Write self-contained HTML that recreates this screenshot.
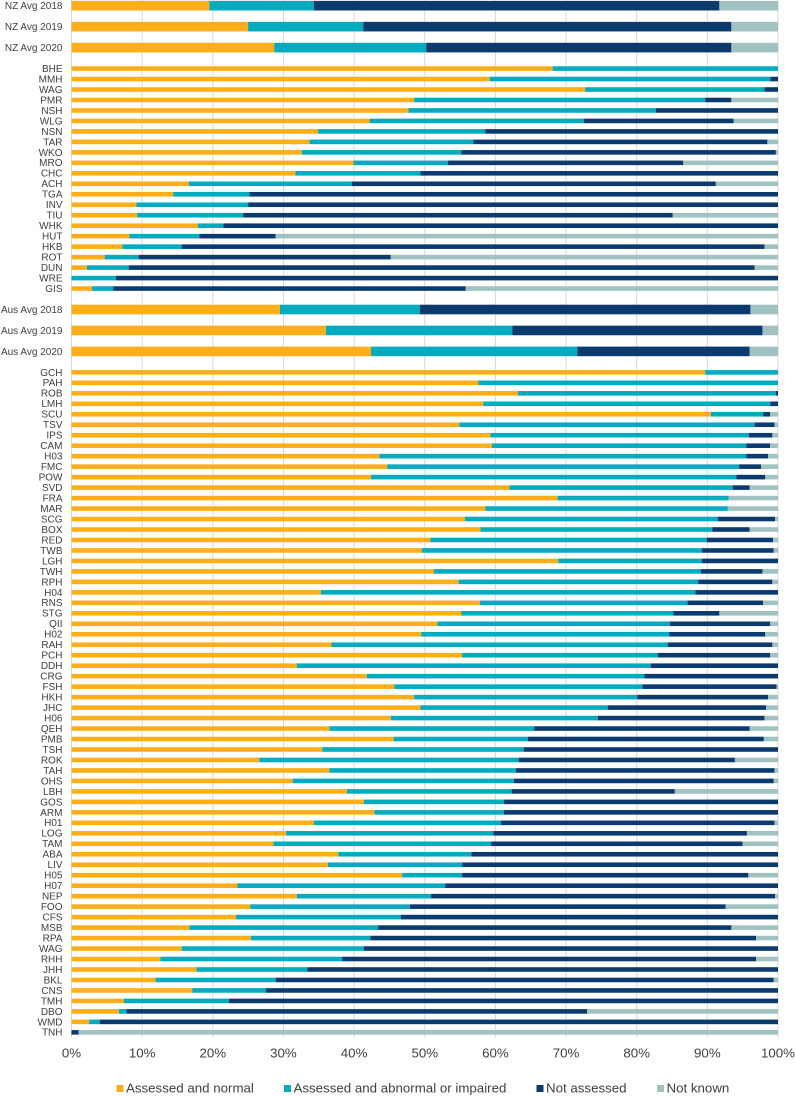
<!DOCTYPE html>
<html>
<head>
<meta charset="utf-8">
<title>Stacked bar chart</title>
<style>
  html, body { margin: 0; padding: 0; background: #fff; }
  svg { display: block; }
  text { font-family: "Liberation Sans", Arial, sans-serif; fill: #404040; }
</style>
</head>
<body>
<svg id="chart" xmlns="http://www.w3.org/2000/svg" width="795" height="1096" viewBox="0 0 795 1096"></svg>
<script>
const categories = ["NZ Avg 2018",null,"NZ Avg 2019",null,"NZ Avg 2020",null,
"BHE","MMH","WAG","PMR","NSH","WLG","NSN","TAR","WKO","MRO","CHC","ACH","TGA","INV","TIU","WHK","HUT","HKB","ROT","DUN","WRE","GIS",null,
"Aus Avg 2018",null,"Aus Avg 2019",null,"Aus Avg 2020",null,
"GCH","PAH","ROB","LMH","SCU","TSV","IPS","CAM","H03","FMC",
"POW","SVD","FRA","MAR","SCG","BOX","RED","TWB","LGH","TWH",
"RPH","H04","RNS","STG","QII","H02","RAH","PCH","DDH","CRG",
"FSH","HKH","JHC","H06","QEH","PMB","TSH","ROK","TAH","OHS",
"LBH","GOS","ARM","H01","LOG","TAM","ABA","LIV","H05","H07",
"NEP","FOO","CFS","MSB","RPA","WAG","RHH","JHH","BKL","CNS",
"TMH","DBO","WMD","TNH"];

const assessedNormal = [19.5,null,25,null,28.7,null,
68.1,59.2,72.7,48.5,47.7,42.2,34.9,33.7,32.6,39.9,31.7,16.6,14.4,9.2,9.3,17.9,8.2,7.2,4.7,2.2,0,2.9,null,
29.5,null,36,null,42.4,null,
89.7,57.6,63.2,58.3,90.5,54.9,59.3,59.5,43.6,44.7,
42.4,62,68.8,58.6,55.7,57.9,50.8,49.6,68.9,51.3,
54.8,35.3,57.8,55.2,51.8,49.5,36.8,55.3,31.9,41.8,
45.7,48.5,49.4,45.2,36.5,45.6,35.5,26.6,36.5,31.3,
39,41.4,42.9,34.3,30.4,28.6,37.8,36.3,46.8,23.5,
31.9,25.3,23.3,16.7,25.4,15.6,12.6,17.7,11.9,17.1,
7.4,6.7,2.5,0];

const assessedAbnormal = [14.8,null,16.3,null,21.5,null,
31.9,39.7,25.4,41.2,35,30.3,23.7,23.2,22.6,13.4,17.7,23.1,10.8,15.8,15,3.6,9.9,8.4,4.8,5.9,6.3,3,null,
19.8,null,26.4,null,29.2,null,
10.3,42.4,36.5,40.6,7.4,41.8,36.6,36,51.9,49.8,
51.7,31.6,24.2,34.3,35.8,32.8,39.1,39.6,20.3,37.8,
33.9,53,29.4,30,32.9,35.1,47.6,27.7,50.1,39.3,
35.1,31.6,26.5,29.3,29,19,28.5,36.7,26.4,31.3,
23.3,19.8,18.3,26.5,29.3,30.8,18.8,19,8.5,29.4,
19,22.6,23.3,26.7,16.9,25.8,25.7,15.7,17,10.4,
14.9,1.1,1.5,0];

const notAssessed = [57.4,null,52.1,null,43.2,null,
0,1.1,1.9,3.7,17.3,21.2,41.4,41.6,44.5,33.3,50.6,51.5,74.8,75,60.8,78.5,10.8,82.5,35.7,88.6,93.7,49.9,null,
46.8,null,35.4,null,24.4,null,
0,0,0.3,1.1,1,2.8,3.3,3.4,3.1,3.1,
4.1,2.4,0,0,8.1,5.3,9.4,10.2,10.8,8.7,
10.5,11.7,10.7,6.5,14.2,13.6,14.8,15.9,18,18.9,
19,18.5,22.4,23.6,30.5,33.4,36,30.6,36.6,36.8,
23.1,38.8,38.8,38.7,35.9,35.6,43.4,44.7,40.5,47.1,
48.7,44.7,53.4,50,54.6,58.6,58.6,66.6,70.5,72.5,
77.7,65.2,96,1];

const notKnown = [8.3,null,6.6,null,6.6,null,
0,0,0,6.6,0,6.3,0,1.5,0.3,13.4,0,8.8,0,0,14.9,0,71.1,1.9,54.8,3.3,0,44.2,null,
3.9,null,2.2,null,4,null,
0,0,0,0,1.1,0.5,0.8,1.1,1.4,2.4,
1.8,4,7,7.1,0.4,4,0.7,0.6,0,2.2,
0.8,0,2.1,8.3,1.1,1.8,0.8,1.1,0,0,
0.2,1.4,1.7,1.9,4,2,0,6.1,0.5,0.6,
14.6,0,0,0.5,4.4,5,0,0,4.2,0,
0.4,7.4,0,6.6,3.1,0,3.1,0,0.6,0,
0,27,0,99];

const xTickValues = [0,10,20,30,40,50,60,70,80,90,100];
const seriesNames = ["Assessed and normal","Assessed and abnormal or impaired","Not assessed","Not known"];

const seriesValues = [assessedNormal, assessedAbnormal, notAssessed, notKnown];
const seriesKeys = ["assessed-normal","assessed-abnormal","not-assessed","not-known"];
const seriesColors = ["#FDAE18","#00ABBF","#0B3A6E","#A1C2C1"];
const legendSwatchX = [116.5, 284, 536.5, 657];

const svg = document.getElementById('chart');
const NS = 'http://www.w3.org/2000/svg';
const plotLeft = 71.5, plotRight = 778, firstRowY = 5.7, rowStep = 10.476;

function xScale(v) { return plotLeft + (v / 100) * (plotRight - plotLeft); }
function yScale(i) { return firstRowY + i * rowStep; }
function make(tag, attrs, parent) {
  const n = document.createElementNS(NS, tag);
  for (const k in attrs) n.setAttribute(k, attrs[k]);
  parent.appendChild(n);
  return n;
}

const plotBottom = yScale(categories.length - 1) + rowStep / 2;

xTickValues.forEach(function (t) {
  const line = make('line', {x1: xScale(t), x2: xScale(t), y1: 0, y2: plotBottom, stroke: '#D9D9D9', 'stroke-width': 1}, svg);
  
  
  const label = make('text', {x: xScale(t), y: 1057.5, 'text-anchor': 'middle', 'font-size': 13.3}, svg);
  label.textContent = t + '%';
  
  
});

categories.forEach(function (cat, i) {
  if (cat === null) return;
  const isAvg = cat.indexOf('Avg') >= 0;
  const h = isAvg ? 9.6 : 4.6;
  const y = yScale(i);
  const label = make('text', {x: 62.5, y: y + 3.4, 'text-anchor': 'end', 'font-size': 10}, svg);
  label.textContent = cat;
  
  
  let cum = 0;
  seriesValues.forEach(function (vals, s) {
    const v = vals[i];
    if (!v) return;
    const r = make('rect', {x: xScale(cum), y: y - h / 2, width: xScale(cum + v) - xScale(cum), height: h, fill: seriesColors[s]}, svg);
    
    
    cum += v;
  });
});

seriesNames.forEach(function (name, s) {
  const sw = make('rect', {x: legendSwatchX[s], y: 1085, width: 7, height: 7, fill: seriesColors[s]}, svg);
  
  
  const t = make('text', {x: legendSwatchX[s] + 9.5, y: 1092.5, 'font-size': 13.3}, svg);
  t.textContent = name;
  
  
});
</script>
</body>
</html>
